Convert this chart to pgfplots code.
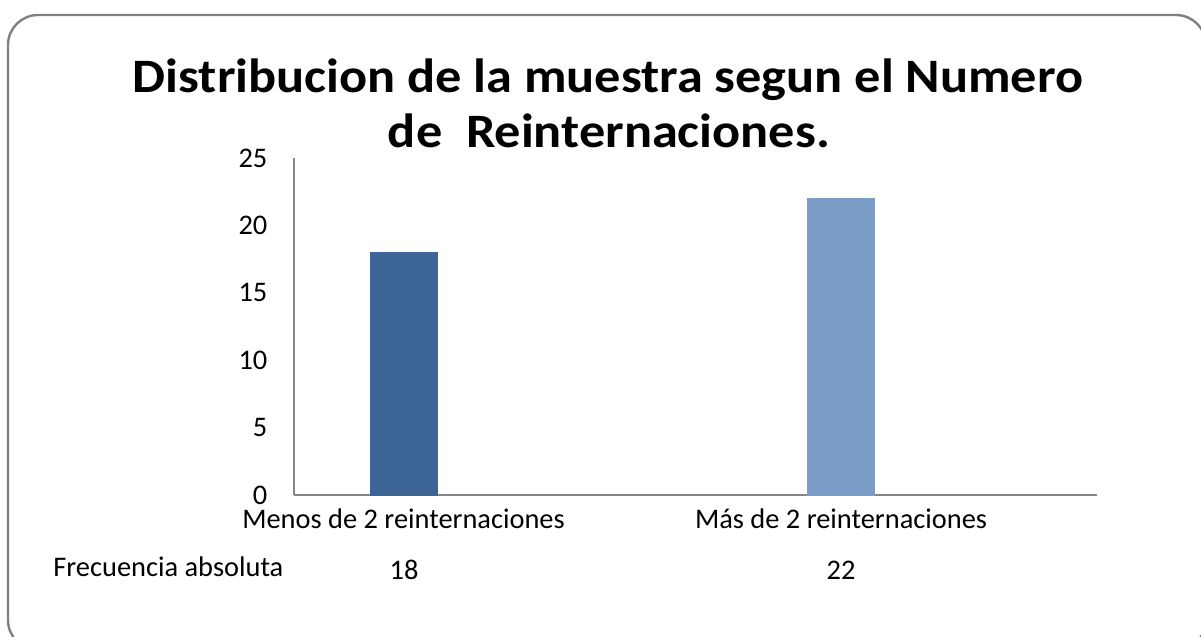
\documentclass[border=0pt]{standalone}
\usepackage{pgfplots}
\pgfplotsset{compat=1.18}
\usepackage{fontspec}
\setmainfont{Carlito}
\definecolor{barA}{HTML}{3D6595}
\definecolor{barB}{HTML}{7C9CC8}
\definecolor{axgray}{HTML}{868686}
\definecolor{framegray}{HTML}{808080}
\begin{document}
\begin{tikzpicture}[x=0.5pt,y=-0.5pt]
\useasboundingbox (0,0) rectangle (1201,637);
\begin{scope}
\clip (0,0) rectangle (1201,637);
\draw[framegray, line width=1.2pt, rounded corners=15pt] (8,15) rectangle (1206,650);
\end{scope}
\node[font=\fontsize{24}{28}\selectfont\bfseries, anchor=base, xscale=1.09] at (608,92) {Distribucion de la muestra segun el Numero};
\node[font=\fontsize{24}{28}\selectfont\bfseries, anchor=base, xscale=1.09] at (609,147) {de\ \ Reinternaciones.};
\begin{axis}[
  at={(147pt,-247.5pt)}, anchor=south west,
  width=401.5pt, height=168.5pt, scale only axis,
  xmin=-0.2503, xmax=1.585, ymin=0, ymax=25,
  axis x line=bottom, axis y line=left,
  axis line style={axgray, line width=0.8pt, -},
  ytick={0,5,10,15,20,25},
  xtick={0,1},
  xticklabels={Menos de 2 reinternaciones, Más de 2 reinternaciones},
  major tick length=0pt,
  tick label style={font=\fontsize{14.2}{17}\selectfont},
  yticklabel style={xshift=-9.8pt},
  xticklabel style={anchor=base, yshift=-16.5pt},
  /pgf/number format/assume math mode=true,
  ybar, bar width=0.153,
  clip=false,
]
\addplot[fill=barA, draw=barA, bar shift=0pt] coordinates {(0,18)};
\addplot[fill=barB, draw=barB, bar shift=0pt] coordinates {(1,22)};
\end{axis}
\node[font=\fontsize{14.2}{17}\selectfont, anchor=base west, inner sep=0pt] at (53,576) {Frecuencia absoluta};
\node[font=\fontsize{14.2}{17}\selectfont, anchor=base, inner sep=0pt] at (404,579) {18};
\node[font=\fontsize{14.2}{17}\selectfont, anchor=base, inner sep=0pt] at (841,579) {22};
\end{tikzpicture}
\end{document}
